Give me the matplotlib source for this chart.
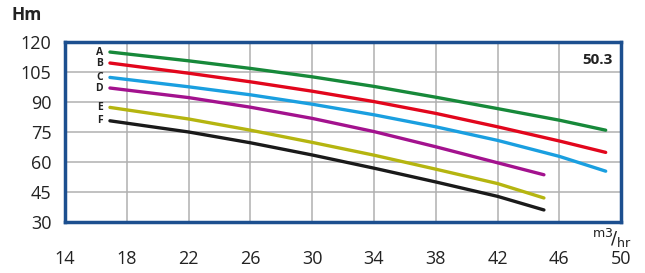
import matplotlib
matplotlib.use("Agg")
import matplotlib.pyplot as plt

plt.rcParams['font.family'] = ['Open Sans', 'DejaVu Sans']

labels = ['A', 'B', 'C', 'D', 'E', 'F']
colors = ['#17893a', '#e2061c', '#1a9fe0', '#a3128e', '#b5b510', '#1a1a1a']

flow_long = [16.9, 22, 26, 30, 34, 38, 42, 46, 49]
flow_short = [16.9, 22, 26, 30, 34, 38, 42, 45]

head_a = [115, 110.6, 106.8, 102.6, 97.8, 92.4, 86.7, 80.9, 75.9]
head_b = [109.5, 104.4, 100.1, 95.4, 90.2, 84.3, 77.6, 70.5, 64.8]
head_c = [102.3, 97.6, 93.6, 88.9, 83.6, 77.6, 70.8, 62.8, 55.4]
head_d = [97, 92.2, 87.4, 81.8, 75.2, 67.6, 59.6, 53.6]
head_e = [87.3, 81.5, 75.9, 69.8, 63.4, 56.4, 49.2, 42]
head_f = [80.6, 75, 69.6, 63.5, 56.9, 50, 42.8, 36]

flows = [flow_long, flow_long, flow_long, flow_short, flow_short, flow_short]
heads = [head_a, head_b, head_c, head_d, head_e, head_f]

xticks = [14, 18, 22, 26, 30, 34, 38, 42, 46, 50]
yticks = [30, 45, 60, 75, 90, 105, 120]

fig = plt.figure(figsize=(6.45, 2.73), dpi=100)
ax = fig.add_axes([0.101, 0.187, 0.862, 0.659])

for lab, c, x, y in zip(labels, colors, flows, heads):
    ax.plot(x, y, color=c, lw=2.4, solid_capstyle='round',
            solid_joinstyle='round', zorder=3)
    ax.text(x[0] - 0.45, y[0], lab, ha='right', va='center',
            fontsize=7.5, fontweight='bold', color='#222222')

ax.set_xlim(14, 50)
ax.set_ylim(30, 120)
ax.set_xticks(xticks)
ax.set_yticks(yticks)
ax.grid(True, color='#b0b0b0', lw=1.1)
ax.set_axisbelow(True)
for s in ax.spines.values():
    s.set_color('#1c4f8f')
    s.set_linewidth(2.5)
ax.tick_params(length=0, labelsize=13, colors='#222222')
ax.tick_params(axis='x', pad=20)
ax.tick_params(axis='y', pad=10)

ax.text(0.985, 0.9, '50.3', transform=ax.transAxes, ha='right', va='center',
        fontsize=11, fontweight='bold', color='#222222')
fig.text(0.042, 0.945, 'Hm', ha='center', va='center', fontsize=12.5,
         fontweight='bold', color='#222222')
fig.text(0.948, 0.128, r'$^{\mathrm{m3}}\!/_{\mathrm{hr}}$', ha='center', va='center',
         fontsize=13, color='#222222')

fig.savefig('out.png', dpi=100)
